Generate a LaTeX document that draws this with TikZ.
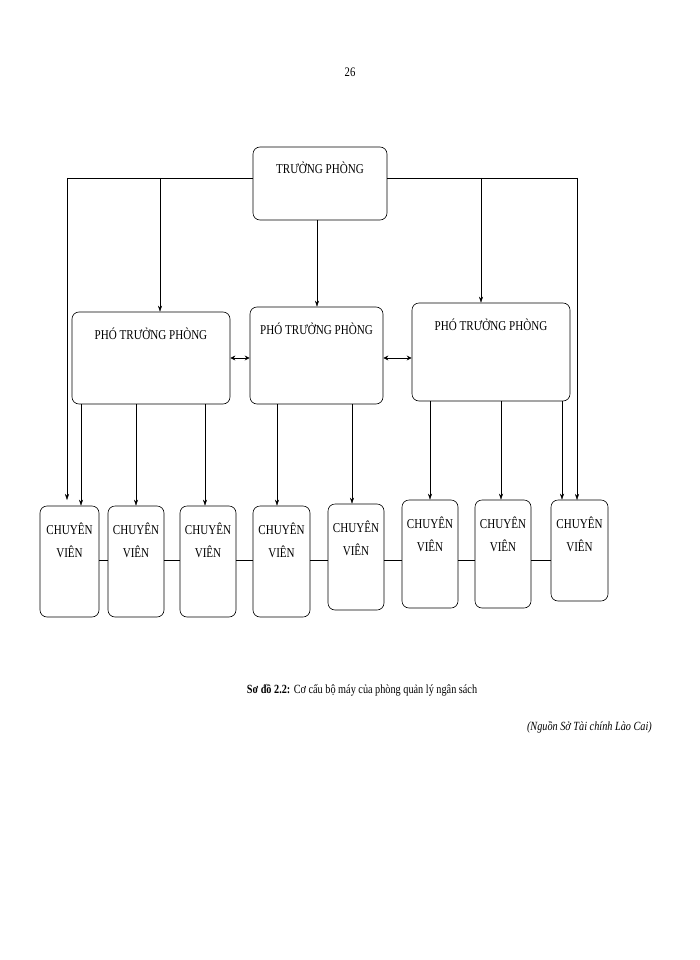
\documentclass[tikz,border=0pt]{standalone}
\usepackage{fontspec}
\setmainfont{Liberation Serif}
\newfontfamily\cond[FakeStretch=0.82]{Liberation Serif}
\usetikzlibrary{arrows.meta}
\begin{document}
\begin{tikzpicture}[x=1pt,y=-1pt,
  box/.style={draw,rounded corners=7pt,line width=0.6pt},
  lbl/.style={font=\cond\fontsize{13.5}{23}\selectfont,align=center,inner sep=0},
  arr/.style={-{Stealth[length=6pt,width=4pt]},line width=0.4pt},
  dbl/.style={{Stealth[length=5pt,width=5pt]}-{Stealth[length=5pt,width=5pt]},line width=0.7pt},
  ln/.style={line width=0.5pt}]
\useasboundingbox (0,0) rectangle (700,960);
\node[lbl,font=\cond\fontsize{13}{14}\selectfont] (pg) at (350,72) {26};
% boxes
\node[box,minimum width=134pt,minimum height=73pt] (tp) at (320,183.5) {};
\node[lbl] (tpt) at (320,168) {TRƯỞNG PHÒNG};
\node[box,minimum width=158pt,minimum height=92pt] (p1) at (151,358) {};
\node[lbl] (p1t) at (151,334) {PHÓ TRƯỞNG PHÒNG};
\node[box,minimum width=133pt,minimum height=97pt] (p2) at (316.5,355.5) {};
\node[lbl] (p2t) at (316.5,329) {PHÓ TRƯỞNG PHÒNG};
\node[box,minimum width=158pt,minimum height=98pt] (p3) at (491,352) {};
\node[lbl] (p3t) at (491,325) {PHÓ TRƯỞNG PHÒNG};
\foreach \i/\a/\b/\t/\u in {1/40/99/506/617,2/108/164/506/617,3/180/236/506/617,4/253/310/506/617,5/328/384/504/610,6/402/458/500/608,7/475/531/500/608,8/551/608/500/601}{
  \node[box,minimum width={\b-\a},minimum height={\u-\t}] (c\i) at ({(\a+\b)/2},{(\t+\u)/2}) {};
  \node[lbl] (c\i t) at ({(\a+\b)/2},{\t+34}) {CHUYÊN\\VIÊN};
}
% connectors from TP
\coordinate (lc) at (67,178);
\coordinate (rc) at (577,178);
\draw[ln] (tp.west |- lc) -- (lc);
\draw[arr] (lc) -- (67,500);
\draw[arr] (160,178) -- (p1.north -| 160,0);
\draw[ln] (tp.east |- rc) -- (rc);
\draw[arr] (rc) -- (577,500);
\draw[arr] (481,178) -- (p3.north -| 481,0);
\draw[arr] (tp.south -| 317,0) -- (p2.north -| 317,0);
% PTP to CV
\foreach \x/\p/\c in {81/p1/c1,136/p1/c2,205/p1/c3,277/p2/c4,352/p2/c5,430/p3/c6,501/p3/c7,562/p3/c8}{
  \draw[arr] (\p.south -| \x,0) -- (\c.north -| \x,0);
}
% double arrows
\draw[dbl] (p1.east |- 0,358) -- (p2.west |- 0,358);
\draw[dbl] (p2.east |- 0,358) -- (p3.west |- 0,358);
% horizontal links
\foreach \a/\b in {c1/c2,c2/c3,c3/c4,c4/c5,c5/c6,c6/c7,c7/c8}{
  \draw[ln] (\a.east |- 0,560) -- (\b.west |- 0,560);
}
\node[lbl,font=\cond\fontsize{12.5}{14}\selectfont] (cap) at (362,690) {\textbf{Sơ đồ 2.2:} Cơ cấu bộ máy của phòng quản lý ngân sách};
\node[lbl,font=\cond\fontsize{12.5}{14}\selectfont\itshape,anchor=east] (src) at (652,727) {(Nguồn Sở Tài chính Lào Cai)};
\end{tikzpicture}
\end{document}
